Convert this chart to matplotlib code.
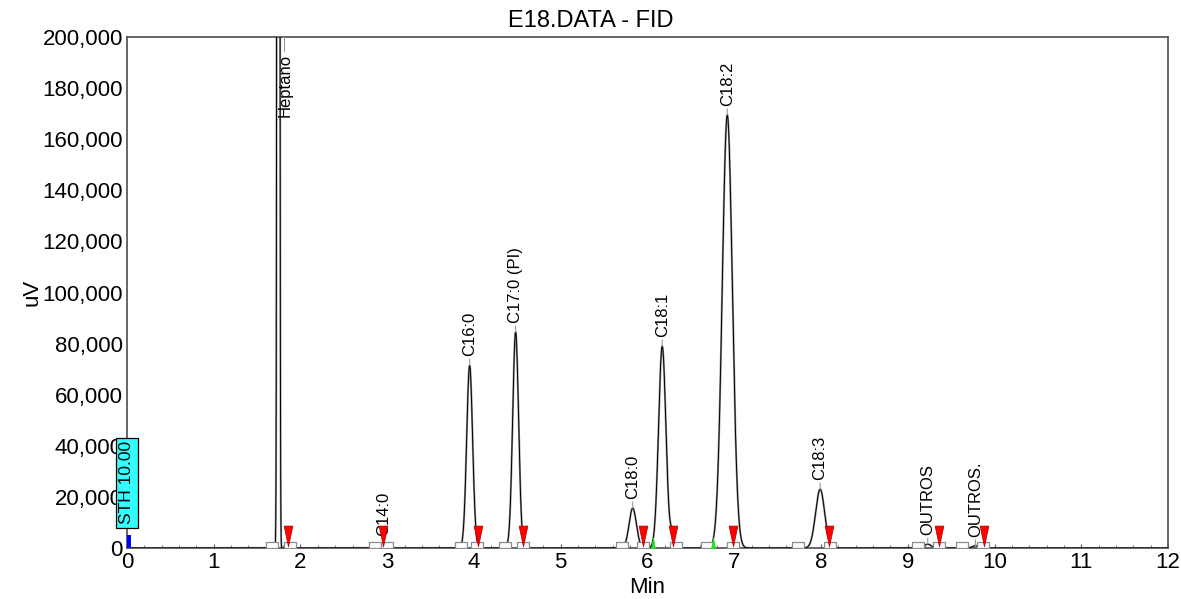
"""
E18.DATA - FID 크로마토그램 재현
"""
import matplotlib
matplotlib.use("Agg")
import matplotlib.pyplot as plt
from matplotlib.ticker import FuncFormatter, MultipleLocator
import numpy as np

plt.rcParams["font.family"] = ["Liberation Sans", "DejaVu Sans"]

# 피크 테이블
PEAK_RT = [1.745, 2.96, 3.95, 4.48, 5.83, 6.17, 6.28, 6.92, 7.99, 9.23, 9.78]
PEAK_HEIGHT = [2500000, 1200, 71500, 84500, 15600, 79000, 4800, 169500, 23000, 1500, 900]
PEAK_SIGMA = [0.009, 0.03, 0.034, 0.034, 0.042, 0.042, 0.02, 0.058, 0.052, 0.04, 0.035]
PEAK_NAMES = ["Heptano", "C14:0", "C16:0", "C17:0 (PI)", "C18:0", "C18:1", "",
              "C18:2", "C18:3", "OUTROS", "OUTROS."]

# 적분 마커
END_MARK_RT = [1.86, 2.95, 4.05, 4.56, 5.95, 6.29, 6.99, 8.09, 9.36, 9.88]
START_MARK_RT = [6.06, 6.75]
BOX_RT = [1.67, 1.88, 2.86, 3.00, 3.85, 4.03, 4.36, 4.56, 5.71, 5.95,
          6.33, 6.69, 6.99, 7.74, 8.10, 9.12, 9.36, 9.62, 9.87]

X_TICKS = list(range(0, 13))
Y_TICKS = list(range(0, 200001, 20000))

AXIS_GRAY = "#5a5a5a"

fig = plt.figure(figsize=(11.81, 5.99), dpi=100, facecolor="white")
ax = fig.add_axes([0.1075, 0.0851, 0.8815, 0.8531])

# 크로마토그램 신호
t = np.linspace(0, 12, 8000)
signal = np.zeros_like(t)
for rt, h, s in zip(PEAK_RT, PEAK_HEIGHT, PEAK_SIGMA):
    signal += h * np.exp(-0.5 * ((t - rt) / s) ** 2)

ax.plot(t, signal, color="#9a9a9a", lw=1.5, zorder=2)
ax.plot(t, signal, color="black", lw=0.7, zorder=3)

# 피크 라벨 + 리더 라인
for rt, h, name in zip(PEAK_RT, PEAK_HEIGHT, PEAK_NAMES):
    if not name:
        continue
    if h > 200000:
        # 스케일 초과 피크: 라벨을 상단에 배치
        ax.plot([rt + 0.06, rt + 0.06], [200000, 194500], color="#9a9a9a", lw=0.8, zorder=3)
        ax.text(rt + 0.075, 193500, name, rotation=90, ha="center", va="top",
                fontsize=12, zorder=5)
        continue
    ax.annotate(name, xy=(rt, h), xytext=(0, 9), textcoords="offset pixels",
                rotation=90, ha="center", va="bottom", fontsize=12, zorder=5,
                arrowprops=dict(arrowstyle="-", color="#9a9a9a", lw=0.8,
                                shrinkA=0, shrinkB=0))

# 베이스라인 박스
box_marker = [(-1, -0.55), (1, -0.55), (1, 0.55), (-1, 0.55), (-1, -0.55)]
ax.plot(BOX_RT, [1300] * len(BOX_RT), ls="none", marker=box_marker, ms=9,
        mfc="white", mec="#8c8c8c", mew=0.9, zorder=4)

# 피크 끝 (빨간 삼각형)
tri_down = [(-0.42, 1), (0.42, 1), (0, -1), (-0.42, 1)]
ax.plot(END_MARK_RT, [4900] * len(END_MARK_RT), ls="none", marker=tri_down,
        ms=15, mfc="#ff0000", mec="#b00000", mew=0.5, zorder=6)

# 피크 시작 (초록 삼각형)
tri_up = [(-0.35, -1), (0.35, -1), (0, 1), (-0.35, -1)]
ax.plot(START_MARK_RT, [2000] * len(START_MARK_RT), ls="none", marker=tri_up,
        ms=8, mfc="#22dd22", mec="#22dd22", mew=0.5, zorder=6)

# STH 이벤트
ax.bar([0.02], [5200], width=0.045, color="#0000ff", zorder=6, clip_on=False)
ax.text(0.0, 25500, "STH 10.00", rotation=90, ha="center", va="center",
        fontsize=12.5, zorder=7, clip_on=False,
        bbox=dict(boxstyle="square,pad=0.18", facecolor="#33ffff",
                  edgecolor="black", linewidth=0.9))

# 축 설정
ax.set_xlim(0, 12)
ax.set_ylim(0, 200000)
ax.set_xticks(X_TICKS)
ax.set_yticks(Y_TICKS)
ax.xaxis.set_minor_locator(MultipleLocator(0.2))
ax.yaxis.set_major_formatter(FuncFormatter(lambda v, _: f"{v:,.0f}"))

ax.tick_params(axis="x", which="major", direction="in", length=3, color=AXIS_GRAY,
               labelsize=16, pad=3)
ax.tick_params(axis="x", which="minor", direction="in", length=2.5, color=AXIS_GRAY)
ax.tick_params(axis="y", which="major", length=0, labelsize=16, pad=3)

for sp in ax.spines.values():
    sp.set_color(AXIS_GRAY)
    sp.set_linewidth(1.3)

ax.set_xlabel("Min", fontsize=16, labelpad=3)
ax.set_ylabel("uV", fontsize=16, labelpad=0)
fig.suptitle("E18.DATA - FID", fontsize=17, x=0.5, y=0.983)

fig.savefig("out.png", dpi=100, facecolor="white")
